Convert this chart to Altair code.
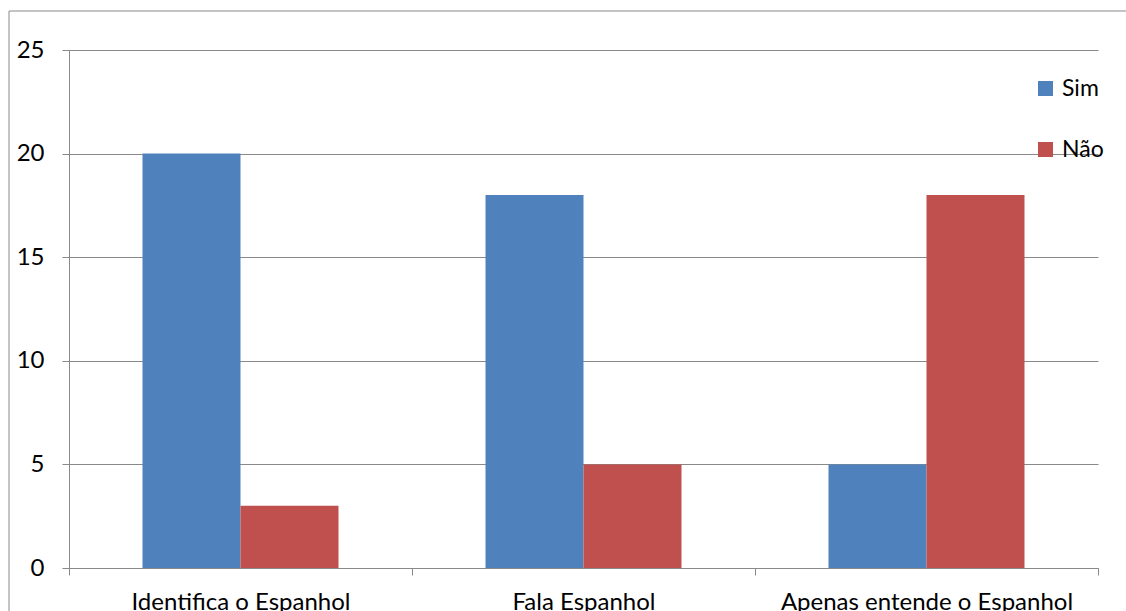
import altair as alt
import pandas as pd

categories = ["Identifica o Espanhol", "Fala Espanhol", "Apenas entende o Espanhol"]
series = ["Sim", "Não"]
sim_values = [20, 18, 5]
nao_values = [3, 5, 18]
y_ticks = [0, 5, 10, 15, 20, 25]
colors = ["#4F81BD", "#C0504D"]

rows = []
for c, s, n in zip(categories, sim_values, nao_values):
    rows.append({"cat": c, "serie": "Sim", "valor": s})
    rows.append({"cat": c, "serie": "Não", "valor": n})
df = pd.DataFrame(rows)

FONT = "Lato"
GRAY = "#898989"
FS = 24

bars = alt.Chart(df).mark_bar().encode(
    x=alt.X("cat:N", sort=categories,
            scale=alt.Scale(paddingInner=0, paddingOuter=0),
            axis=alt.Axis(title=None, labelAngle=0, tickBand="extent",
                          labelFontSize=FS, labelFont=FONT, labelColor="#000000",
                          labelPadding=15, labelLimit=500, tickSize=7, tickColor=GRAY,
                          domainColor=GRAY, grid=False)),
    xOffset=alt.XOffset("serie:N", sort=series,
                        scale=alt.Scale(paddingInner=0, paddingOuter=0.75)),
    y=alt.Y("valor:Q", scale=alt.Scale(domain=[0, 25], nice=False),
            axis=alt.Axis(title=None, values=y_ticks, labelFontSize=FS,
                          labelFont=FONT, labelColor="#000000", labelPadding=18,
                          tickSize=7, tickColor=GRAY, domainColor=GRAY,
                          gridColor=GRAY, grid=True)),
    color=alt.Color("serie:N", sort=series,
                    scale=alt.Scale(domain=series, range=colors),
                    legend=alt.Legend(title=None, orient="none", legendX=965,
                                      legendY=27, symbolType="square",
                                      symbolSize=225, symbolStrokeWidth=0,
                                      labelFontSize=23, labelFont=FONT,
                                      labelColor="#000000", rowPadding=37,
                                      padding=0, labelOffset=5, labelLimit=300)),
)

frame_df = pd.DataFrame({"k": [0]})
frame_v = alt.Chart(frame_df).mark_rule(color=GRAY, strokeWidth=1).encode(
    x=alt.value(-60), y=alt.value(-39), y2=alt.value(700))
frame_h = alt.Chart(frame_df).mark_rule(color=GRAY, strokeWidth=1).encode(
    x=alt.value(-60), x2=alt.value(1200), y=alt.value(-39))

chart = alt.layer(bars, frame_v, frame_h).properties(
    width=1029, height=518,
    autosize=alt.AutoSizeParams(type="none"),
    padding={"left": 69, "top": 50, "right": 28, "bottom": 43},
    background="#ffffff",
).configure_view(stroke=None)

chart.save("out.html", embed_options={"renderer": "svg", "actions": False})
